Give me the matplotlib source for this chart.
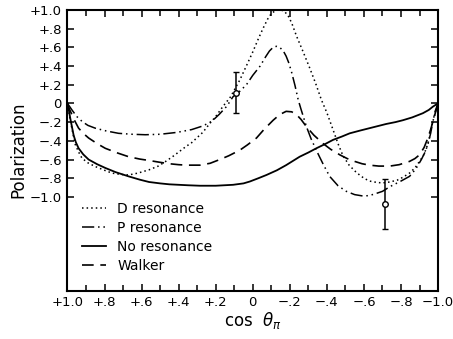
import numpy as np
import matplotlib
matplotlib.use("Agg")
import matplotlib.pyplot as plt
from matplotlib.ticker import FixedLocator, FixedFormatter

# ---- data (cos theta_pi, polarization) ----
d_x = [1.0, 0.987, 0.973, 0.958, 0.94, 0.922, 0.89, 0.85, 0.80, 0.76, 0.71,
       0.67, 0.62, 0.56, 0.51, 0.47, 0.43, 0.40, 0.36, 0.33, 0.30, 0.27, 0.23,
       0.20, 0.16, 0.12, 0.07, 0.03, 0.0, -0.03, -0.055, -0.08, -0.10, -0.125,
       -0.15, -0.17, -0.19, -0.21, -0.236, -0.27, -0.307, -0.34, -0.37, -0.40,
       -0.433, -0.46, -0.487, -0.52, -0.56, -0.60, -0.63, -0.67, -0.70, -0.74,
       -0.78, -0.81, -0.846, -0.875, -0.90, -0.92, -0.937, -0.952, -0.963,
       -0.975, -0.99, -1.0]
d_y = [0.0, -0.16, -0.30, -0.44, -0.52, -0.585, -0.635, -0.675, -0.715,
       -0.745, -0.76, -0.765, -0.745, -0.71, -0.67, -0.62, -0.565, -0.52, -0.46,
       -0.42, -0.365, -0.31, -0.21, -0.14, -0.03, 0.07, 0.25, 0.42, 0.55, 0.69,
       0.80, 0.90, 0.96, 0.995, 1.0, 0.985, 0.94, 0.86, 0.72, 0.56, 0.38, 0.21,
       0.04, -0.10, -0.28, -0.43, -0.56, -0.66, -0.74, -0.80, -0.83, -0.845,
       -0.85, -0.84, -0.82, -0.79, -0.745, -0.69, -0.62, -0.56, -0.48, -0.38,
       -0.265, -0.17, -0.06, 0.0]

p_x = [1.0, 0.976, 0.95, 0.92, 0.89, 0.85, 0.79, 0.724, 0.65, 0.58, 0.50,
       0.41, 0.33, 0.268, 0.22, 0.18, 0.14, 0.107, 0.07, 0.034, 0.0, -0.04,
       -0.07, -0.09, -0.11, -0.128, -0.145, -0.165, -0.18, -0.195, -0.21,
       -0.228, -0.245, -0.26, -0.29, -0.315, -0.343, -0.36, -0.38, -0.415,
       -0.46, -0.505, -0.55, -0.595, -0.63, -0.67, -0.70, -0.74, -0.80, -0.846,
       -0.88, -0.91, -0.93, -0.945, -0.96, -0.972, -0.985, -1.0]
p_y = [0.0, -0.07, -0.14, -0.195, -0.235, -0.265, -0.295, -0.32, -0.33,
       -0.335, -0.33, -0.31, -0.28, -0.24, -0.19, -0.115, -0.03, 0.07, 0.13,
       0.20, 0.30, 0.40, 0.50, 0.56, 0.60, 0.61, 0.60, 0.56, 0.505, 0.43, 0.33,
       0.19, 0.04, -0.06, -0.25, -0.38, -0.50, -0.57, -0.65, -0.78, -0.88,
       -0.94, -0.975, -0.99, -0.985, -0.96, -0.94, -0.89, -0.83, -0.78, -0.70,
       -0.60, -0.52, -0.44, -0.32, -0.195, -0.08, 0.0]

n_x = [1.0, 0.992, 0.985, 0.976, 0.967, 0.955, 0.94, 0.915, 0.886, 0.84,
       0.796, 0.74, 0.67, 0.61, 0.56, 0.50, 0.45, 0.35, 0.285, 0.20, 0.106,
       0.05, 0.016, -0.03, -0.074, -0.13, -0.18, -0.253, -0.30, -0.343, -0.39,
       -0.433, -0.48, -0.523, -0.58, -0.63, -0.68, -0.72, -0.77, -0.81, -0.86,
       -0.918, -0.95, -0.972, -0.99, -1.0]
n_y = [0.0, -0.08, -0.16, -0.25, -0.34, -0.415, -0.48, -0.545, -0.60, -0.65,
       -0.69, -0.735, -0.78, -0.815, -0.84, -0.855, -0.865, -0.875, -0.88,
       -0.88, -0.87, -0.855, -0.835, -0.80, -0.765, -0.715, -0.66, -0.57,
       -0.525, -0.48, -0.435, -0.39, -0.355, -0.32, -0.29, -0.265, -0.24,
       -0.22, -0.20, -0.18, -0.15, -0.105, -0.07, -0.035, -0.012, 0.0]

w_x = [1.0, 0.99, 0.976, 0.96, 0.94, 0.915, 0.886, 0.84, 0.796, 0.73, 0.67,
       0.61, 0.56, 0.50, 0.45, 0.40, 0.36, 0.32, 0.285, 0.23, 0.178, 0.13,
       0.07, 0.03, -0.02, -0.06, -0.11, -0.145, -0.18, -0.21, -0.236, -0.26,
       -0.29, -0.33, -0.38, -0.42, -0.47, -0.51, -0.55, -0.59, -0.63, -0.68,
       -0.74, -0.79, -0.846, -0.875, -0.90, -0.925, -0.945, -0.96, -0.972,
       -0.987, -1.0]
w_y = [0.0, -0.06, -0.12, -0.19, -0.265, -0.32, -0.37, -0.43, -0.48, -0.53,
       -0.57, -0.595, -0.61, -0.63, -0.645, -0.655, -0.66, -0.66, -0.66,
       -0.64, -0.60, -0.56, -0.50, -0.445, -0.37, -0.28, -0.18, -0.12, -0.085,
       -0.09, -0.12, -0.17, -0.25, -0.34, -0.43, -0.49, -0.55, -0.59, -0.62,
       -0.645, -0.66, -0.67, -0.67, -0.655, -0.62, -0.59, -0.55, -0.47, -0.37,
       -0.28, -0.195, -0.09, 0.0]

# measured points with errors
pt_x = [0.09, -0.715]
pt_y = [0.115, -1.075]
pt_err = [0.22, 0.27]

tick_vals = [1.0, 0.8, 0.6, 0.4, 0.2, 0.0, -0.2, -0.4, -0.6, -0.8, -1.0]
tick_text = ["+1.0", "+.8", "+.6", "+.4", "+.2", "0", "\u2212.2", "\u2212.4",
             "\u2212.6", "\u2212.8", "\u22121.0"]

fig = plt.figure(figsize=(4.53, 3.39), dpi=100)
ax = fig.add_axes([0.149, 0.143, 0.818, 0.828])

ax.plot(d_x, d_y, color="k", lw=1.1, ls=(0, (1, 2)), label="D resonance")
ax.plot(p_x, p_y, color="k", lw=1.1, ls=(0, (8, 2.5, 1, 2.5, 1, 2.5)),
        label="P resonance")
ax.plot(n_x, n_y, color="k", lw=1.3, ls="-", label="No resonance")
ax.plot(w_x, w_y, color="k", lw=1.2, ls=(0, (7, 4)), label="Walker")

ax.errorbar(pt_x, pt_y, yerr=pt_err, fmt="o", ms=4, mfc="white", mec="k",
            ecolor="k", elinewidth=1.1, capsize=2.5, capthick=1.0, zorder=5)

ax.set_xlim(1.0, -1.0)
ax.set_ylim(-2.0, 1.0)

ax.xaxis.set_major_locator(FixedLocator(tick_vals))
ax.xaxis.set_major_formatter(FixedFormatter(tick_text))
ax.xaxis.set_minor_locator(FixedLocator(np.arange(-0.9, 1.0, 0.2)))
ax.yaxis.set_major_locator(FixedLocator(tick_vals))
ax.yaxis.set_major_formatter(FixedFormatter(tick_text))

ax.tick_params(which="both", direction="in", top=True, right=True,
               width=1.1, colors="k")
ax.tick_params(which="major", length=5, labelsize=9.5, pad=4)
ax.tick_params(which="minor", length=4)

for s in ax.spines.values():
    s.set_linewidth(1.5)

ax.set_ylabel("Polarization", fontsize=12, labelpad=2)
ax.set_xlabel(r"cos  $\theta_{\pi}$", fontsize=12, labelpad=1)

leg = ax.legend(loc="upper left", bbox_to_anchor=(0.025, 0.335), frameon=False,
                fontsize=10, handlelength=1.7, handletextpad=0.8,
                labelspacing=0.35, borderaxespad=0.0)

fig.savefig("out.png", dpi=100)
